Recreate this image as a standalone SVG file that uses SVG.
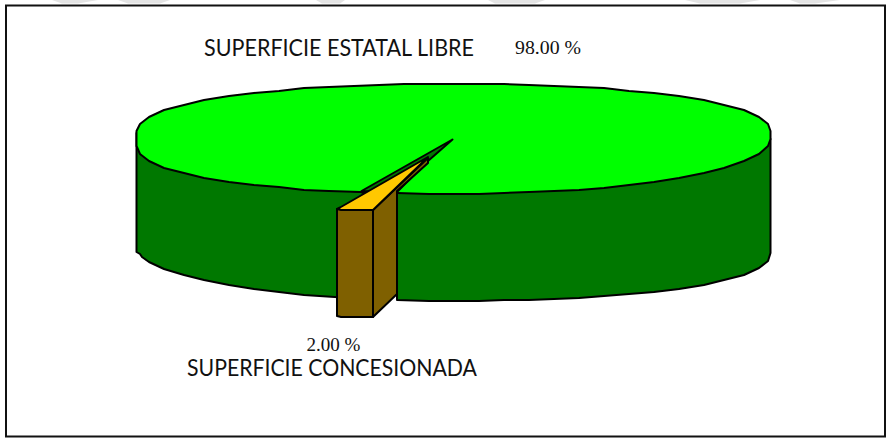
<svg xmlns="http://www.w3.org/2000/svg" width="886" height="443" viewBox="0 0 886 443">
<style>
.e{stroke:#000;stroke-width:2;stroke-linejoin:round}
.b{fill:#007800}
.t{fill:#00ff00}
.w{fill:#7f6000}
.y{fill:#ffc800}
.s{font-family:"Lato","Open Sans",sans-serif;font-size:23px;fill:#111}
.n{font-family:"Liberation Serif",serif;font-size:19px;fill:#111}
</style>
<rect width="886" height="443" fill="#fff"/>
<g fill="#e4e4e4">
<path d="M52 0H98L78 3.500H62ZM118 0H170L160 3.500H128ZM316 0H345L340 3.500H322ZM488 0H545L535 3.500H495ZM685 0H760L740 3.500H700ZM790 0H840L815 3.500H800Z"/>
</g>
<rect id="frame" x="6" y="5.500" width="879" height="431" fill="#fff" stroke="#111" stroke-width="2"/>
<g id="connectors"></g>
<g id="side-estatal">
<path class="e b" d="M136.500 133V252L140 254 142 257 149 262 164 269 184 275 204 280 229 285 254 289 279 292 304 295 350 298V210L370 196 361 192 340 190 304 186 279 184 254 181 229 177 204 172 184 168 164 162 149 154 142 148 140 146 136.500 144Z"/>
<path class="e b" d="M397 192V300L429 301 454 301 479 301 504 300 529 300 554 299 579 298 604 296 629 294 654 292 679 289 704 285 724 280 744 275 759 268 768 261 770.500 253V139Z"/>
</g>
<g id="top-estatal">
<path class="e t" d="M136.500 139V131L140 124 149 117 164 110 184 105 204 100 229 96 254 93 279 91 304 88 329 87 354 86 379 85 404 84 429 84 454 84 479 84 504 84 529 85 554 86 579 87 604 88 629 91 654 93 679 96 704 100 724 105 744 110 759 117 768 124 770.500 131V139L768 146 759 154 744 161 724 168 704 173 679 178 654 182 629 185 604 188 579 190 554 191 529 192 504 193 479 194 454 194 429 194 397 193 361 192 329 191 304 190 279 187 254 185 229 182 204 178 184 173 164 168 149 161 140 154 136.500 146Z"/>
</g>
<g id="wedge-cut">
<path class="e b" d="M361.500 191L452.500 139.500 428 161 397 192Z"/>
</g>
<g id="side-concesionada">
<path class="e w" d="M337 209H373V317H341L337 316Z"/>
<path class="e w" d="M373 210L428 158 428 163 397 191V294L373 317Z"/>
<path class="e y" d="M340 207.500L428 157 373 210H341L337 209Z"/>
</g>
<g id="label-estatal">
<text class="s" x="204" y="56" textLength="270" lengthAdjust="spacingAndGlyphs">SUPERFICIE ESTATAL LIBRE</text>
<text class="n" x="515" y="53.500" textLength="66" lengthAdjust="spacingAndGlyphs">98.00 %</text>
</g>
<g id="label-concesionada">
<text class="n" x="306.500" y="350.500" textLength="54" lengthAdjust="spacingAndGlyphs">2.00 %</text>
<text class="s" x="187" y="376" textLength="290" lengthAdjust="spacingAndGlyphs">SUPERFICIE CONCESIONADA</text>
</g>
</svg>
